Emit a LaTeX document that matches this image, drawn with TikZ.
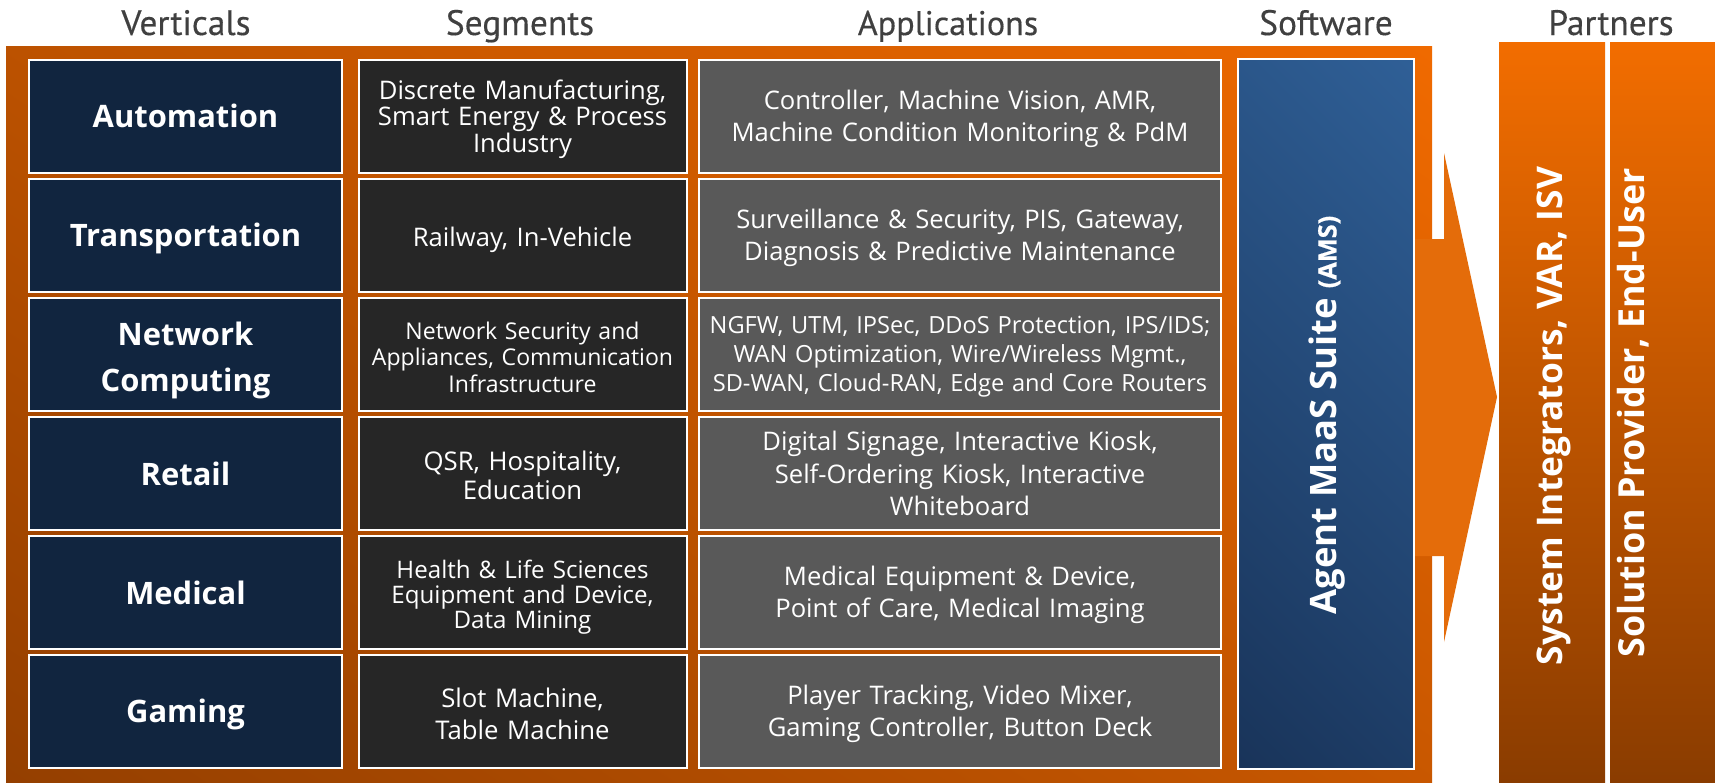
\documentclass[tikz,border=0pt]{standalone}
\usepackage{fontspec}
\setmainfont{Open Sans}
\newfontfamily\headfont[FakeBold=0.35]{PT Sans}
\newfontfamily\semifont[FakeBold=0.6]{Open Sans}
\definecolor{vcol}{HTML}{11253F}
\definecolor{scol}{HTML}{262626}
\definecolor{acol}{HTML}{595959}
\definecolor{arrowcol}{HTML}{E46C0A}
\definecolor{headcol}{HTML}{404040}
\definecolor{ptop}{HTML}{F26D00}
\definecolor{pbot}{HTML}{8A3C00}
\definecolor{bluetop}{HTML}{2F5F96}
\definecolor{bluebot}{HTML}{19345A}
\definecolor{panelA}{HTML}{F06A00}
\definecolor{panelB}{HTML}{943F00}
\pgfdeclareverticalshading{panelsh}{100bp}{color(0bp)=(panelB); color(15bp)=(panelB); color(85bp)=(panelA); color(100bp)=(panelA)}
\pgfdeclareverticalshading{bluesh}{100bp}{color(0bp)=(bluebot); color(15bp)=(bluebot); color(85bp)=(bluetop); color(100bp)=(bluetop)}
\newcommand{\fs}[2]{\fontsize{#1}{#2}\selectfont}
\tikzset{
 cellbox/.style={draw=white,line width=1.5pt,minimum height=85pt,inner sep=0pt},
 vbox/.style={cellbox,fill=vcol,minimum width=234.5pt},
 sbox/.style={cellbox,fill=scol,minimum width=246pt},
 abox/.style={cellbox,fill=acol,minimum width=392pt},
 celltext/.style={inner sep=0pt,align=center,text=white},
 vtext/.style={celltext,text width=225pt,font=\bfseries\fs{23.2}{34.5}},
 stext/.style={celltext,text width=242pt,font=\fs{19.2}{19.7}},
 atext/.style={celltext,text width=388pt,font=\fs{19.2}{24}},
 hd/.style={text=headcol,font=\headfont\fs{26.5}{30},inner sep=0pt,anchor=base},
 sidetext/.style={rotate=90,text=white,inner sep=0pt},
}
\begin{document}
\begin{tikzpicture}[x=0.75pt,y=-0.75pt]
\useasboundingbox (0,0) rectangle (1715,782);
\fill[white] (0,0) rectangle (1715,782);
\node[hd] (hv) at (186,35) {Verticals};
\node[hd] (hs) at (520,35) {Segments};
\node[hd] (ha) at (948,35) {\fs{25.6}{30}Applications};
\node[hd] (hw) at (1326,35) {Software};
\node[hd] (hp) at (1611,35) {Partners};
\shade[shading=panelsh,shading angle=-34] (6,46) rectangle (1432,782);
\fill[arrowcol] (1444,153) -- (1497,397) -- (1444,642) -- (1444,556) -- (1414,556) -- (1414,239) -- (1444,239) -- cycle;
% boxes
\foreach \n/\y in {a/116.5,b/235.5,c/354.5,d/473.5,e/592.5,f/711.5}{
  \node[vbox] (v\n) at (185.5,\y) {};
  \node[sbox] (s\n) at (522.5,\y) {};
  \node[abox] (a\n) at (960,\y) {};
}
% vertical labels
\node[vtext,yshift=0.8pt] (vat) at (va) {Automation};
\node[vtext,yshift=-2pt] (vbt) at (vb) {Transportation};
\node[vtext,yshift=-4.5pt] (vct) at (vc) {Network\\Computing};
\node[vtext] (vdt) at (vd) {Retail};
\node[vtext] (vet) at (ve) {Medical};
\node[vtext,yshift=-2.2pt] (vft) at (vf) {Gaming};
% segment labels
\node[stext,yshift=-2pt] (sat) at (sa) {Discrete Manufacturing,\\Smart Energy \& Process\\Industry};
\node[stext,yshift=-3.5pt] (sbt) at (sb) {Railway, In-Vehicle};
\node[stext,font=\fs{17.3}{19.7},yshift=-2pt] (sct) at (sc) {Network Security and\\Appliances, Communication\\Infrastructure};
\node[stext,font=\fs{19.3}{21.3},yshift=-1.5pt] (sdt) at (sd) {QSR, Hospitality,\\Education};
\node[stext,font=\fs{18.1}{19},yshift=-3.5pt] (set) at (se) {Health \& Life Sciences\\Equipment and Device,\\Data Mining};
\node[stext,font=\fs{19.3}{24},yshift=-1.5pt] (sft) at (sf) {Slot Machine,\\Table Machine};
% application labels
\node[atext,yshift=-1.5pt] (aat) at (aa) {Controller, Machine Vision, AMR,\\Machine Condition Monitoring \& PdM};
\node[atext,yshift=-2pt] (abt) at (ab) {Surveillance \& Security, PIS, Gateway,\\Diagnosis \& Predictive Maintenance};
\node[atext,font=\fs{17.7}{21.7},yshift=-1.5pt] (act) at (ac) {NGFW, UTM, IPSec, DDoS Protection, IPS/IDS;\\WAN Optimization, Wire/Wireless Mgmt.,\\SD-WAN, Cloud-RAN, Edge and Core Routers};
\node[atext,font=\fs{19.2}{24.6}] (adt) at (ad) {Digital Signage, Interactive Kiosk,\\Self-Ordering Kiosk, Interactive\\Whiteboard};
\node[atext,yshift=-2pt] (aet) at (ae) {Medical Equipment \& Device,\\Point of Care, Medical Imaging};
\node[atext,yshift=-1.5pt] (aft) at (af) {Player Tracking, Video Mixer,\\Gaming Controller, Button Deck};
\node[draw=white,line width=1.5pt,minimum width=132pt,minimum height=532pt,shade,shading=bluesh,shading angle=-45,inner sep=0pt] (sw) at (1325.5,414) {};
\node[sidetext,font=\bfseries\fs{27.3}{32}] (swt) at (1327,415) {Agent MaaS Suite {\semifont\fs{19}{22}(AMS)}};
\shade[top color=ptop,bottom color=pbot] (1499,42) rectangle (1605,782);
\shade[top color=ptop,bottom color=pbot] (1610,42) rectangle (1715,782);
\node[sidetext,font=\bfseries\fs{26.5}{30}] (pa) at (1554,416) {System Integrators, VAR, ISV};
\node[sidetext,font=\bfseries\fs{26.9}{30}] (pb) at (1633,413) {Solution Provider, End-User};
\end{tikzpicture}
\end{document}
